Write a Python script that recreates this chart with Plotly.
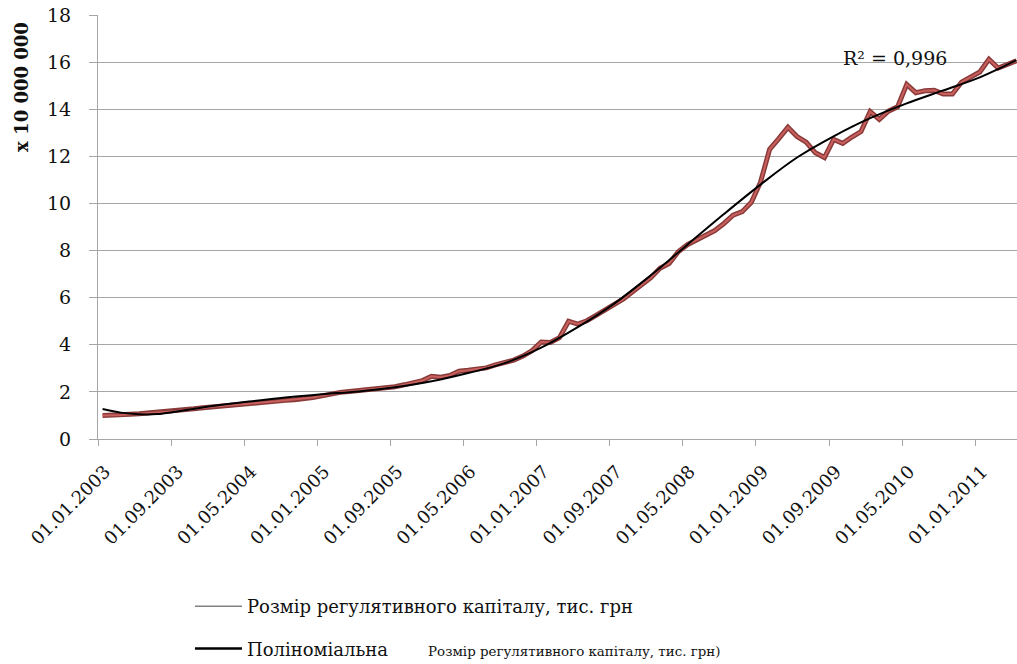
import plotly.graph_objects as go

# monthly categories 01.01.2003 .. 01.05.2011
categories = [f"01.{m:02d}.{y}" for y in range(2003, 2012) for m in range(1, 13)][:101]

# regulatory capital, x 10 000 000
capital = [
    1.00, 1.00, 1.02, 1.05, 1.07, 1.10, 1.12, 1.15, 1.18, 1.22,
    1.28, 1.33, 1.37, 1.40, 1.44, 1.48, 1.52, 1.55, 1.57, 1.60,
    1.64, 1.67, 1.70, 1.76, 1.83, 1.92, 1.98, 2.02, 2.06, 2.10,
    2.12, 2.16, 2.22, 2.30, 2.40, 2.48, 2.66, 2.62, 2.70, 2.88,
    2.92, 2.96, 3.02, 3.15, 3.25, 3.35, 3.52, 3.75, 4.12, 4.10,
    4.30, 5.00, 4.88, 5.02, 5.25, 5.48, 5.72, 5.95, 6.25, 6.55,
    6.85, 7.25, 7.45, 7.95, 8.25, 8.45, 8.65, 8.85, 9.15, 9.50,
    9.65, 10.05, 10.90, 12.30, 12.75, 13.23, 12.84, 12.60, 12.15, 11.95,
    12.72, 12.55, 12.82, 13.05, 13.90, 13.57, 13.92, 14.10, 15.05, 14.70,
    14.78, 14.80, 14.65, 14.65, 15.15, 15.35, 15.58, 16.12, 15.75, 15.90,
    16.05,
]

# polynomial trend line at these month indices
trend_idx = [0, 2, 4, 6, 8, 12, 16, 20, 24, 28, 32, 36, 40, 44, 48, 52,
             56, 60, 64, 68, 72, 76, 80, 84, 88, 92, 96, 100]
trend_val = [1.27, 1.12, 1.05, 1.06, 1.16, 1.40, 1.59, 1.76, 1.90, 2.02, 2.20, 2.45, 2.80, 3.22, 3.88, 4.75,
             5.75, 6.95, 8.25, 9.55, 10.80, 11.95, 12.85, 13.62, 14.25, 14.80, 15.35, 16.08]

series_name = "Розмір регулятивного капіталу, тис. грн"
trend_name = ("Поліноміальна" + "\u00a0" * 7 +
              "<span style='font-size:13.4px'>Розмір регулятивного капіталу, тис. грн)</span>")
r2_text = "R² = 0,996"
y_title = "x 10 000 000"
y_ticks = [0, 2, 4, 6, 8, 10, 12, 14, 16, 18]

idx = list(range(len(capital)))

FONT = "DejaVu Serif"
GRID = "#a6a6a6"
TXT = "#111111"

fig = go.Figure()
fig.add_trace(go.Scatter(x=idx, y=capital, mode="lines", line=dict(color="#8a3a39", width=5),
                         showlegend=False, hoverinfo="skip"))
fig.add_trace(go.Scatter(x=idx, y=capital, mode="lines", line=dict(color="#c8605e", width=2),
                         showlegend=False))
fig.add_trace(go.Scatter(x=trend_idx, y=trend_val, mode="lines",
                         line=dict(color="#000000", width=2, shape="spline", smoothing=1.0),
                         showlegend=False))
# legend entries
fig.add_trace(go.Scatter(x=[None], y=[None], mode="lines", name=series_name,
                         line=dict(color="#444444", width=1), legendgroup="a"))
fig.add_trace(go.Scatter(x=[None], y=[None], mode="lines", name=trend_name,
                         line=dict(color="#000000", width=2.5), legendgroup="b"))

fig.update_layout(
    width=1017, height=664,
    margin=dict(l=98, r=0, t=15, b=225, pad=0, autoexpand=False),
    paper_bgcolor="white", plot_bgcolor="white",
    font=dict(family=FONT, size=18, color=TXT),
    showlegend=True,
    legend=dict(xref="container", yref="container", x=0.1868, y=0.1145,
                xanchor="left", yanchor="top", orientation="v",
                font=dict(family=FONT, size=18, color=TXT), itemwidth=47,
                tracegroupgap=16, bgcolor="rgba(0,0,0,0)"),
    annotations=[
        dict(text="<b>" + y_title + "</b>", textangle=-90, x=-0.084, y=0.83, xref="paper", yref="paper",
             showarrow=False, font=dict(family=FONT, size=18, color=TXT),
             xanchor="center", yanchor="middle"),
        dict(text=r2_text, x=0.867, y=0.898, xref="paper", yref="paper", showarrow=False,
             font=dict(family=FONT, size=19, color=TXT), xanchor="center", yanchor="middle"),
    ],
)

fig.update_xaxes(
    range=[-0.5, 100.07], showgrid=False, zeroline=False, automargin=False,
    tickmode="array", tickvals=[i - 0.5 for i in range(0, len(categories), 8)],
    ticktext=categories[::8], tickangle=-45, ticklabelshift=7, ticklabelstandoff=8,
    ticks="outside", ticklen=6, tickcolor=GRID, showline=True, linecolor=GRID, linewidth=1,
    tickfont=dict(family=FONT, size=18, color=TXT),
)
fig.update_yaxes(
    range=[0, 18], tickmode="array", tickvals=y_ticks, showgrid=True, gridcolor=GRID, gridwidth=1,
    zeroline=False, ticks="outside", ticklen=8, tickcolor=GRID, showline=True, linecolor=GRID,
    linewidth=1, tickfont=dict(family=FONT, size=19, color=TXT), ticklabelstandoff=14, automargin=False,
)

fig.write_html("out.html")
